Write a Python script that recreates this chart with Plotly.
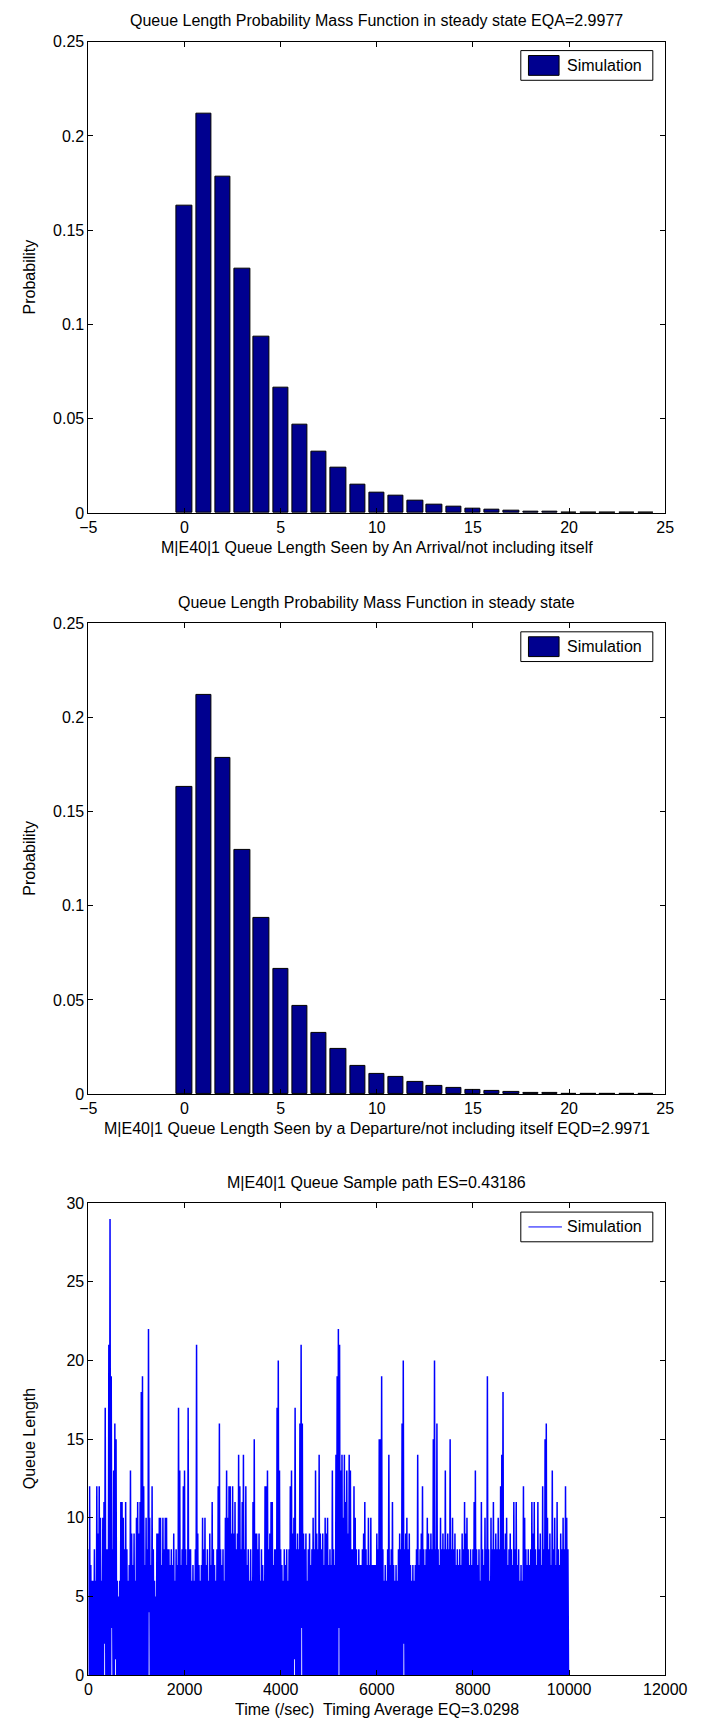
import plotly.graph_objects as go

# ---------------- data ----------------
queue_lengths = list(range(25))

arrival_pmf = [0.1630, 0.2120, 0.1782, 0.1297, 0.0933, 0.0665, 0.0466, 0.0324,
               0.0238, 0.0152, 0.0110, 0.0091, 0.0064, 0.0045, 0.0032, 0.0025,
               0.0019, 0.0013, 0.0009, 0.0005, 0.0003, 0.0002, 0.0001, 0.0001,
               0.0001]

departure_pmf = [0.1630, 0.2120, 0.1782, 0.1297, 0.0933, 0.0665, 0.0466, 0.0324,
                 0.0238, 0.0152, 0.0110, 0.0091, 0.0064, 0.0045, 0.0032, 0.0025,
                 0.0019, 0.0013, 0.0009, 0.0005, 0.0003, 0.0002, 0.0001, 0.0001,
                 0.0001]

# sample path: local maximum of the queue length in each 25 s slot (0 .. 10000 s)
path_slot_seconds = 25
path_peaks = [
    8, 12, 7, 6, 6, 8, 6, 12, 9, 12, 10, 6, 10, 11, 17, 8, 8, 21, 29, 19,
    8, 13, 16, 15, 6, 5, 6, 11, 11, 10, 8, 11, 8, 6, 7, 13, 9, 7, 9, 6,
    10, 11, 9, 11, 18, 19, 12, 7, 10, 8, 22, 10, 7, 12, 8, 6, 5, 9, 9, 10,
    10, 7, 10, 8, 10, 10, 8, 8, 7, 8, 7, 9, 6, 8, 7, 17, 13, 7, 8, 12,
    13, 8, 7, 17, 8, 8, 6, 7, 6, 8, 21, 9, 7, 6, 7, 10, 8, 10, 7, 8,
    6, 9, 7, 11, 8, 7, 6, 8, 12, 16, 8, 7, 8, 6, 10, 13, 10, 12, 12, 9,
    12, 9, 11, 8, 9, 14, 12, 8, 11, 14, 8, 12, 7, 8, 6, 8, 6, 11, 15, 9,
    9, 8, 9, 6, 8, 7, 6, 12, 12, 13, 8, 9, 11, 11, 7, 8, 8, 17, 20, 13,
    8, 7, 6, 8, 7, 8, 6, 8, 12, 13, 9, 10, 17, 8, 9, 8, 16, 21, 16, 9,
    8, 9, 6, 8, 9, 7, 8, 10, 8, 13, 9, 8, 14, 9, 8, 9, 7, 10, 9, 10,
    7, 8, 7, 13, 8, 7, 14, 19, 22, 21, 13, 14, 10, 14, 11, 13, 9, 14, 13, 8,
    8, 12, 10, 8, 7, 8, 7, 7, 8, 9, 11, 8, 7, 10, 7, 10, 7, 7, 7, 7,
    9, 8, 15, 15, 19, 8, 6, 7, 6, 8, 14, 7, 8, 11, 7, 6, 7, 6, 8, 9,
    8, 16, 20, 8, 9, 10, 8, 9, 7, 6, 7, 6, 7, 8, 14, 7, 8, 9, 12, 8,
    7, 8, 10, 9, 8, 9, 8, 15, 20, 8, 16, 8, 7, 10, 8, 9, 8, 13, 8, 9,
    8, 15, 8, 10, 8, 9, 7, 8, 7, 8, 7, 9, 8, 11, 9, 10, 8, 7, 8, 7,
    8, 11, 13, 8, 7, 8, 6, 11, 8, 7, 10, 8, 19, 8, 6, 10, 8, 11, 8, 9,
    8, 10, 8, 12, 14, 18, 8, 9, 10, 7, 8, 9, 8, 7, 11, 8, 11, 7, 8, 6,
    7, 6, 12, 10, 8, 7, 8, 7, 8, 11, 9, 11, 8, 7, 11, 8, 9, 7, 12, 8,
    15, 16, 10, 8, 9, 7, 13, 8, 10, 7, 11, 8, 7, 9, 8, 10, 8, 12, 10, 8,
]
# local minimum of the queue length in each slot (mostly empty queue)
path_troughs = [
    0, 0, 0, 0, 0, 0, 0, 0, 0, 0, 0, 0, 0, 2, 0, 0, 0, 0, 0, 3,
    0, 0, 1, 0, 0, 0, 0, 0, 0, 0, 0, 0, 0, 0, 0, 0, 0, 0, 0, 0,
    0, 0, 0, 0, 0, 0, 0, 0, 0, 0, 4, 0, 0, 0, 0, 0, 0, 0, 0, 0,
    0, 0, 0, 0, 0, 0, 0, 0, 0, 0, 0, 0, 0, 0, 0, 0, 0, 0, 0, 0,
    0, 0, 0, 0, 0, 0, 0, 0, 0, 0, 0, 0, 0, 0, 0, 0, 0, 0, 0, 0,
    0, 0, 0, 0, 0, 0, 0, 0, 0, 0, 0, 0, 0, 0, 0, 0, 0, 0, 0, 0,
    0, 0, 0, 0, 0, 0, 0, 0, 0, 0, 0, 0, 0, 0, 0, 0, 0, 0, 0, 0,
    0, 0, 0, 0, 0, 0, 0, 0, 0, 0, 0, 0, 0, 0, 0, 0, 0, 0, 0, 0,
    0, 0, 0, 0, 0, 0, 0, 0, 0, 0, 0, 1, 0, 0, 0, 0, 0, 3, 0, 0,
    0, 0, 0, 0, 0, 0, 0, 0, 0, 0, 0, 0, 0, 0, 0, 0, 0, 0, 0, 0,
    0, 0, 0, 0, 0, 0, 0, 0, 3, 0, 0, 0, 0, 0, 0, 0, 0, 0, 0, 0,
    0, 0, 0, 0, 0, 0, 0, 0, 0, 0, 0, 0, 0, 0, 0, 0, 0, 0, 0, 0,
    0, 0, 0, 0, 0, 0, 0, 0, 0, 0, 0, 0, 0, 0, 0, 0, 0, 0, 0, 0,
    0, 0, 2, 0, 0, 0, 0, 0, 0, 0, 0, 0, 0, 0, 0, 0, 0, 0, 0, 0,
    0, 0, 0, 0, 0, 0, 0, 0, 0, 0, 0, 0, 0, 0, 0, 0, 0, 0, 0, 0,
    0, 0, 0, 0, 0, 0, 0, 0, 0, 0, 0, 0, 0, 0, 0, 0, 0, 0, 0, 0,
    0, 0, 0, 0, 0, 0, 0, 0, 0, 0, 0, 0, 0, 0, 0, 0, 0, 0, 0, 0,
    0, 0, 0, 0, 0, 0, 0, 0, 0, 0, 0, 0, 0, 0, 0, 0, 0, 0, 0, 0,
    0, 0, 0, 0, 0, 0, 0, 0, 0, 0, 0, 0, 0, 0, 0, 0, 0, 0, 0, 0,
    0, 0, 0, 0, 0, 0, 0, 0, 0, 0, 0, 0, 0, 0, 0, 0, 0, 0, 0, 0,
]

titles = ["Queue Length Probability Mass Function in steady state EQA=2.9977",
          "Queue Length Probability Mass Function in steady state",
          "M|E40|1 Queue Sample path ES=0.43186"]
xlabels = ["M|E40|1 Queue Length Seen by An Arrival/not including itself",
           "M|E40|1 Queue Length Seen by a Departure/not including itself EQD=2.9971",
           "Time (/sec)\u00a0 Timing Average EQ=3.0298"]
ylabels = ["Probability", "Probability", "Queue Length"]
legend_label = "Simulation"

# ---------------- layout helpers ----------------
W, H = 715, 1735
FONT = "Liberation Sans, Arial, Helvetica, sans-serif"
FS = 16
BAR_COLOR = "#00008F"
LINE_COLOR = "#0000FF"


def fx(x):
    return x / W


def fy(y):
    return 1 - y / H


LEFT, RIGHT = 83, 686
panels = [(34, 510), (621, 1097), (1207, 1683.6)]

# sample path as a polyline
path_t, path_q = [], []
for i, (p, tr) in enumerate(zip(path_peaks, path_troughs)):
    path_t += [i * path_slot_seconds, i * path_slot_seconds + path_slot_seconds / 2]
    path_q += [p, tr]

fig = go.Figure()
fig.add_trace(go.Bar(x=queue_lengths, y=arrival_pmf, width=0.8, name=legend_label,
                     marker=dict(color=BAR_COLOR, line=dict(color="black", width=1)),
                     xaxis="x", yaxis="y", showlegend=False))
fig.add_trace(go.Bar(x=queue_lengths, y=departure_pmf, width=0.8, name=legend_label,
                     marker=dict(color=BAR_COLOR, line=dict(color="black", width=1)),
                     xaxis="x2", yaxis="y2", showlegend=False))
fig.add_trace(go.Scatter(x=path_t, y=path_q, mode="lines", name=legend_label,
                         line=dict(color=LINE_COLOR, width=1.5),
                         xaxis="x3", yaxis="y3", showlegend=False))

axis_common = dict(showline=True, linecolor="black", linewidth=1, mirror="ticks",
                   ticks="inside", ticklen=5, tickcolor="black", tickwidth=1,
                   showgrid=False, zeroline=False, fixedrange=True,
                   tickfont=dict(size=FS, color="black", family=FONT))

layout = dict(width=W, height=H, margin=dict(l=0, r=0, t=0, b=0),
              paper_bgcolor="white", plot_bgcolor="white", showlegend=False,
              font=dict(family=FONT, size=FS, color="black"), bargap=0)

xranges = [[-5, 25], [-5, 25], [0, 12000]]
yranges = [[0, 0.25], [0, 0.25], [0, 30]]
xdt = [5, 5, 2000]
ydt = [0.05, 0.05, 5]

annotations = []
shapes = []
for k, (top, bot) in enumerate(panels):
    sx = "" if k == 0 else str(k + 1)
    layout["xaxis" + sx] = dict(axis_common, domain=[fx(LEFT), fx(RIGHT)],
                                range=xranges[k], dtick=xdt[k], tick0=0,
                                tickformat="d" if k == 2 else None,
                                anchor="y" + sx)
    layout["yaxis" + sx] = dict(axis_common, domain=[fy(bot), fy(top)],
                                range=yranges[k], dtick=ydt[k], tick0=0,
                                anchor="x" + sx)
    cx = (LEFT + RIGHT) / 2
    annotations.append(dict(text=titles[k], x=fx(cx), y=fy(top - 21), xref="paper", yref="paper",
                            showarrow=False, xanchor="center", yanchor="middle",
                            font=dict(size=FS, color="black", family=FONT)))
    annotations.append(dict(text=xlabels[k], x=fx(cx), y=fy(bot + 35), xref="paper", yref="paper",
                            showarrow=False, xanchor="center", yanchor="middle",
                            font=dict(size=FS, color="black", family=FONT)))
    annotations.append(dict(text=ylabels[k], x=fx(21), y=fy((top + bot) / 2), xref="paper",
                            yref="paper", showarrow=False, textangle=-90,
                            xanchor="center", yanchor="middle",
                            font=dict(size=FS, color="black", family=FONT)))
    # legend box
    lt = top + 9
    shapes.append(dict(type="rect", xref="paper", yref="paper", layer="above",
                       x0=fx(535), x1=fx(673), y0=fy(lt + 30), y1=fy(lt),
                       line=dict(color="black", width=1), fillcolor="white"))
    if k < 2:
        shapes.append(dict(type="rect", xref="paper", yref="paper", layer="above",
                           x0=fx(543), x1=fx(575), y0=fy(lt + 25), y1=fy(lt + 5),
                           line=dict(color="black", width=1), fillcolor=BAR_COLOR))
    else:
        shapes.append(dict(type="line", xref="paper", yref="paper", layer="above",
                           x0=fx(543), x1=fx(578), y0=fy(lt + 15), y1=fy(lt + 15),
                           line=dict(color=LINE_COLOR, width=1)))
    annotations.append(dict(text=legend_label, x=fx(581), y=fy(lt + 15), xref="paper", yref="paper",
                            showarrow=False, xanchor="left", yanchor="middle",
                            font=dict(size=FS, color="black", family=FONT)))

layout["annotations"] = annotations
layout["shapes"] = shapes
fig.update_layout(**layout)
fig.write_html("out.html")
